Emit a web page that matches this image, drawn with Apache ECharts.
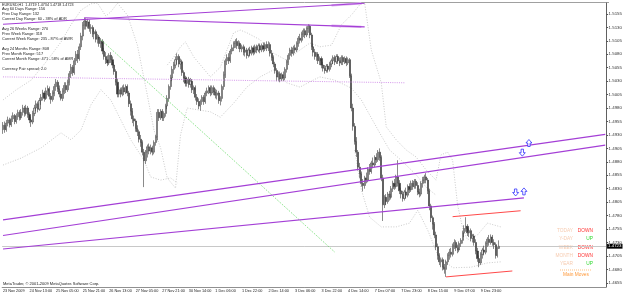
<!DOCTYPE html>
<html>
<head>
<meta charset="utf-8">
<title>EURUSD,H1</title>
<script src="https://cdn.jsdelivr.net/npm/echarts@6.0.0/dist/echarts.min.js"></script>
<style>
  html, body { margin: 0; padding: 0; background: #fff; }
  #chart { width: 625px; height: 294px; }
</style>
</head>
<body>
<div id="chart"></div>
<script>
// all prices in pips above 1.0000 (4723 -> 1.4723)
const timeLabels = ['23 Nov 2009', '24 Nov 13:00', '25 Nov 05:00', '25 Nov 21:00', '26 Nov 13:00', '27 Nov 05:00',
  '27 Nov 21:00', '30 Nov 14:00', '1 Dec 06:00', '1 Dec 22:00', '2 Dec 14:00', '3 Dec 06:00', '3 Dec 22:00',
  '4 Dec 14:00', '7 Dec 07:00', '7 Dec 23:00', '8 Dec 15:00', '9 Dec 07:00', '9 Dec 23:00']
const priceTicks = [4655, 4680, 4705, 4730, 4755, 4780, 4805, 4830, 4855, 4880, 4905, 4930, 4955, 4980,
  5005, 5030, 5055, 5080, 5105, 5130, 5155]
const lastPrice = 4723

// H1 bars: [open, close, low, high]
const candles = [
  [4940,4948,4932,4954],[4948,4940,4934,4955],[4940,4952,4936,4958],[4952,4958,4946,4964],[4958,4949,4944,4962],
  [4949,4960,4945,4966],[4960,4966,4954,4972],[4966,4955,4950,4969],[4955,4964,4951,4970],[4964,4972,4958,4977],
  [4972,4962,4957,4976],[4962,4972,4958,4978],[4972,4980,4966,4986],[4980,4970,4964,4984],[4970,4980,4966,4986],
  [4980,4968,4962,4984],[4968,4958,4952,4972],[4958,4954,4945,4964],[4954,4970,4950,4975],[4970,4980,4965,4986],
  [4980,4988,4974,4994],[4988,4978,4972,4992],[4978,4994,4975,4999],[4994,5000,4986,5006],[5000,5008,4994,5014],
  [5008,4998,4992,5012],[4998,5012,4995,5018],[5012,5016,5004,5022],[5016,5002,4996,5020],[5002,4996,4988,5008],
  [4996,5008,4992,5013],[5008,5020,5002,5025],[5020,5028,5012,5034],[5028,5016,5010,5032],[5016,5006,5000,5022],
  [5006,4998,4994,5012],[4998,5012,4993,5017],[5012,5022,5006,5028],[5022,5014,5008,5028],[5014,5028,5010,5033],
  [5028,5044,5022,5049],[5044,5056,5036,5062],[5056,5046,5040,5060],[5046,5068,5042,5073],[5068,5080,5060,5086],
  [5080,5072,5064,5088],[5072,5094,5068,5100],[5094,5114,5088,5120],[5114,5134,5106,5140],[5134,5142,5126,5148],
  [5142,5132,5126,5147],[5132,5140,5128,5146],[5140,5128,5122,5144],[5128,5130,5118,5136],[5130,5118,5112,5134],
  [5118,5122,5108,5128],[5122,5108,5102,5126],[5108,5112,5100,5118],[5112,5100,5094,5116],[5100,5104,5092,5110],
  [5104,5086,5080,5108],[5086,5076,5070,5092],[5076,5070,5062,5084],[5070,5064,5058,5078],[5064,5078,5060,5082],
  [5078,5070,5064,5084],[5070,5060,5054,5076],[5060,5048,5042,5066],[5048,5028,5022,5052],[5028,5006,5000,5034],
  [5006,5014,5000,5020],[5014,5006,5000,5018],[5006,5018,5002,5022],[5018,5010,5004,5024],[5010,5020,5006,5024],
  [5020,5008,5002,5024],[5008,4988,4982,5012],[4988,4974,4966,4994],[4974,4960,4952,4980],[4960,4956,4946,4966],
  [4956,4942,4936,4960],[4942,4936,4928,4948],[4936,4922,4916,4940],[4922,4916,4908,4930],[4916,4898,4892,4920],
  [4898,4882,4833,4904],[4882,4898,4876,4902],[4898,4908,4888,4912],[4908,4900,4894,4914],[4900,4906,4894,4912],
  [4906,4898,4892,4910],[4898,4916,4894,4920],[4916,4926,4910,4930],[4926,4972,4920,4978],[4972,4962,4956,4978],
  [4962,4974,4958,4978],[4974,4962,4956,4978],[4962,4970,4956,4974],[4970,4984,4964,4988],[4984,4998,4978,5004],
  [4998,5020,4992,5024],[5020,5036,5014,5042],[5036,5052,5030,5058],[5052,5060,5044,5066],[5060,5070,5054,5076],
  [5070,5076,5062,5082],[5076,5062,5056,5080],[5062,5066,5052,5072],[5066,5046,5040,5070],[5046,5036,5028,5050],
  [5036,5026,5020,5040],[5026,5034,5020,5038],[5034,5024,5018,5038],[5024,5030,5018,5036],[5030,5014,5008,5034],
  [5014,5018,5006,5022],[5018,5000,4994,5022],[5000,4992,4986,5006],[4992,4984,4978,4998],[4984,4992,4975,4996],
  [4992,5000,4986,5004],[5000,4992,4986,5004],[4992,5008,4988,5012],[5008,5012,5002,5018],[5012,5018,5006,5022],
  [5018,5008,5002,5022],[5008,5018,5004,5022],[5018,5010,5004,5022],[5010,5004,4998,5016],[5004,5008,4996,5014],
  [5008,4994,4988,5012],[4994,4998,4985,5002],[4998,5020,4992,5024],[5020,5042,5014,5048],[5042,5068,5036,5072],
  [5068,5074,5060,5080],[5074,5068,5062,5082],[5068,5086,5064,5090],[5086,5092,5080,5098],[5092,5100,5086,5104],
  [5100,5104,5092,5108],[5104,5096,5090,5110],[5096,5100,5090,5106],[5100,5090,5084,5104],[5090,5094,5084,5098],
  [5094,5084,5078,5098],[5084,5088,5076,5092],[5088,5078,5072,5092],[5078,5088,5074,5092],[5088,5082,5076,5094],
  [5082,5092,5078,5096],[5092,5084,5078,5096],[5084,5094,5080,5098],[5094,5088,5082,5098],[5088,5096,5084,5100],
  [5096,5088,5082,5100],[5088,5096,5084,5100],[5096,5090,5084,5102],[5090,5098,5086,5102],[5098,5092,5086,5104],
  [5092,5098,5086,5104],[5098,5082,5076,5102],[5082,5074,5068,5088],[5074,5062,5056,5078],[5062,5050,5044,5066],
  [5050,5038,5030,5054],[5038,5044,5030,5048],[5044,5034,5028,5048],[5034,5042,5030,5046],[5042,5036,5030,5048],
  [5036,5052,5032,5056],[5052,5066,5046,5070],[5066,5078,5060,5082],[5078,5088,5070,5092],[5088,5082,5076,5094],
  [5082,5092,5078,5096],[5092,5088,5082,5098],[5088,5100,5084,5104],[5100,5110,5094,5114],[5110,5106,5100,5118],
  [5106,5118,5102,5122],[5118,5124,5112,5128],[5124,5116,5110,5128],[5116,5128,5112,5132],[5128,5132,5120,5136],
  [5132,5116,5110,5135],[5116,5094,5088,5120],[5094,5084,5076,5100],[5084,5076,5070,5090],[5076,5080,5068,5084],
  [5080,5068,5062,5084],[5068,5072,5060,5076],[5072,5060,5054,5076],[5060,5054,5048,5066],[5054,5050,5044,5060],
  [5050,5058,5046,5062],[5058,5052,5046,5062],[5052,5062,5048,5066],[5062,5068,5056,5072],[5068,5074,5062,5078],
  [5074,5066,5060,5078],[5066,5076,5062,5080],[5076,5068,5062,5080],[5068,5064,5058,5074],[5064,5074,5060,5078],
  [5074,5066,5060,5078],[5066,5072,5062,5076],[5072,5064,5058,5076],[5064,5070,5060,5074],[5070,5040,5036,5073],
  [5040,4980,4974,5044],[4980,4946,4938,4988],[4946,4918,4912,4952],[4918,4898,4889,4926],[4898,4870,4864,4902],
  [4870,4858,4850,4878],[4858,4840,4834,4862],[4840,4836,4825,4848],[4836,4850,4830,4854],[4850,4846,4840,4860],
  [4846,4866,4842,4870],[4866,4862,4856,4876],[4862,4878,4858,4882],[4878,4874,4868,4888],[4874,4888,4870,4892],
  [4888,4884,4878,4896],[4884,4898,4880,4902],[4898,4888,4882,4905],[4888,4850,4844,4892],[4850,4800,4770,4856],
  [4800,4814,4794,4818],[4814,4806,4800,4820],[4806,4820,4802,4824],[4820,4814,4808,4826],[4814,4830,4810,4835],
  [4830,4840,4824,4845],[4840,4834,4828,4848],[4834,4852,4830,4856],[4852,4840,4834,4883],[4840,4826,4820,4846],
  [4826,4820,4812,4832],[4820,4812,4806,4826],[4812,4824,4808,4828],[4824,4818,4812,4832],[4818,4834,4814,4838],
  [4834,4828,4822,4840],[4828,4840,4824,4845],[4840,4834,4828,4846],[4834,4844,4830,4848],[4844,4836,4830,4848],
  [4836,4824,4818,4842],[4824,4820,4814,4830],[4820,4840,4816,4844],[4840,4846,4832,4852],[4846,4852,4840,4856],
  [4852,4846,4840,4859],[4846,4826,4820,4850],[4826,4798,4790,4830],[4798,4776,4768,4802],[4776,4764,4754,4780],
  [4764,4744,4738,4768],[4744,4722,4716,4750],[4722,4706,4698,4728],[4706,4694,4688,4710],[4694,4698,4684,4702],
  [4698,4684,4678,4702],[4684,4680,4672,4690],[4680,4694,4666,4698],[4694,4706,4688,4710],[4706,4712,4698,4718],
  [4712,4708,4702,4720],[4708,4724,4704,4728],[4724,4730,4718,4736],[4730,4720,4714,4734],[4720,4716,4710,4726],
  [4716,4728,4712,4732],[4728,4734,4722,4738],[4734,4748,4728,4752],[4748,4756,4740,4762],[4756,4760,4750,4777],
  [4760,4748,4742,4764],[4748,4752,4740,4756],[4752,4738,4732,4756],[4738,4742,4730,4746],[4742,4730,4724,4746],
  [4730,4714,4708,4736],[4714,4700,4694,4720],[4700,4692,4684,4706],[4692,4708,4688,4712],[4708,4716,4700,4720],
  [4716,4712,4706,4724],[4712,4728,4708,4732],[4728,4736,4722,4740],[4736,4730,4724,4744],[4730,4740,4726,4745],
  [4740,4730,4724,4744],[4730,4726,4718,4736],[4726,4706,4700,4730],[4706,4719,4702,4722],[4719,4723,4718,4734]
]
const emptyBars = 64   // chart shift space on the right

// dotted envelope curves: [bar index, price]
const bandA = [[0,4995],[8,5014],[17,5032],[26,5066],[35,5103],[41,5135],[47,5162],[53,5174],[57,5175],[62,5151],
  [65,5159],[69,5175],[75,5153],[81,5097],[87,5004],[91,4939],[95,4906],[99,4850],[104,4831],[107,4930],[111,4980],
  [119,4976],[125,4973],[131,4963],[139,4989],[147,5019],[155,5038],[163,5051],[171,5027],[179,5019],[187,5032],
  [191,5038],[200,5032],[210,5017],[216,4995],[227,4934],[233,4902],[240,4883],[249,4856],[255,4833],[261,4818]]
const bandB = [[99,5060],[103,5075],[107,5094],[110,5103],[115,5075],[125,5038],[131,5056],[139,5120],[143,5125],
  [147,5120],[155,5107],[163,5082],[171,5069],[179,5088],[185,5101],[191,5094],[198,5097],[204,5135],[210,5153],
  [215,5172],[218,5175],[222,5088],[228,5027],[231,4945],[237,4921],[243,4902],[249,4889],[255,4865],[261,4846],
  [264,4893],[268,4898],[271,4883],[274,4800],[277,4757],[280,4735],[286,4744],[292,4766],[300,4759]]
const bandC = [[0,4874],[11,4887],[23,4906],[35,4934],[41,4921],[47,4939],[53,4986],[59,5014],[65,4995],[71,4958],
  [77,4921],[85,4883],[89,4852],[95,4846],[101,4850],[105,4841]]
const bandD = [[212,4902],[216,4828],[221,4777],[228,4759],[237,4759],[245,4766],[250,4790],[256,4753],[262,4707],
  [271,4683],[282,4684],[292,4692],[300,4694]]

// drawn objects: [bar index, price] end points
const topLine1 = [[0,5136],[218,5175]]
const topLine2 = [[49,5148],[218,5131]]
const topLine1Hi = [[198,5171],[216,5175]]
const topLine2Hi = [[198,5133],[216,5131]]
const channel1 = [[0,4772],[363,4931]]
const channel2 = [[0,4743],[363,4911]]
const channel3 = [[0,4718],[314,4813]]
const pivotLine = [[0,5038],[242,5027]]
const greenLine = [[59,5107],[200,4712]]
const redTop = [[271,4778],[312,4789]]
const redBottom = [[267,4666],[307,4677]]
const upArrows = [[317,4915],[314,4825]]
const downArrows = [[313,4897],[309,4823]]

const infoLines = ['Avg 60 Days Range: 156', 'Prev Day Range: 132', 'Current Day Range: 60 - 38% of ADR',
  'Avg 26 Weeks Range: 270', 'Prev Week Range: 318', 'Current Week Range: 235 - 87% of AWR',
  'Avg 24 Months Range: 808', 'Prev Month Range: 517', 'Current Month Range: 471 - 58% of AMR',
  'Currency Pair spread: 2.0']
const infoY = [9, 14, 19, 29, 34, 39, 49, 54, 59, 69]
const moveNames = ['TODAY', 'Y-DAY', 'WEEK', 'MONTH', 'YEAR']
const moveDirs = ['DOWN', 'UP', 'DOWN', 'DOWN', 'UP']
const moveY = [231, 239, 247.5, 256, 264]

const FONT = '"Liberation Sans", Arial, sans-serif'
const cats = Array.from({ length: candles.length + emptyBars }, (_, i) => String(i))
const fmtPrice = v => (1 + v / 10000).toFixed(4)

function seg(data, color, width, type, z) {
  return { type: 'line', data: data, symbol: 'none', silent: true, z: z,
    lineStyle: { color: color, width: width, type: type } }
}

const upPath = 'path://M5 0 L10 5 L7 5 L7 10 L3 10 L3 5 L0 5 Z'
const downPath = 'path://M3 0 L7 0 L7 5 L10 5 L5 10 L0 5 L3 5 Z'

let graphics = [
  { type: 'line', shape: { x1: 0, y1: 2.5, x2: 609, y2: 2.5 }, style: { stroke: '#a0a0a0', lineWidth: 1 } },
  { type: 'text', style: { text: 'EURUSD,H1  1.4719 1.4734 1.4718 1.4723', x: 2, y: 4.5, fontSize: 3.7,
    fontFamily: FONT, fill: '#222', verticalAlign: 'middle' } },
  { type: 'text', style: { text: 'MetaTrader, \u00a9 2001-2009 MetaQuotes Software Corp.', x: 3, y: 283.5,
    fontSize: 4, fontFamily: FONT, fill: '#222', verticalAlign: 'middle' } },
  { type: 'line', shape: { x1: 560, y1: 270, x2: 592, y2: 270 },
    style: { stroke: '#ffae60', lineWidth: 0.8, lineDash: [1, 1] } },
  { type: 'text', style: { text: 'Main Moves', x: 576, y: 274.5, fontSize: 4.8, fontFamily: FONT,
    fill: '#ff9a3c', align: 'center', verticalAlign: 'middle' } }
]
infoLines.forEach((t, i) => {
  graphics.push({ type: 'text', style: { text: t, x: 2, y: infoY[i], fontSize: 3.9, fontFamily: FONT,
    fill: '#222', verticalAlign: 'middle' } })
})
moveNames.forEach((t, i) => {
  graphics.push({ type: 'text', style: { text: t, x: 573, y: moveY[i], fontSize: 4.8, fontFamily: FONT,
    fill: '#f6cbb0', align: 'right', verticalAlign: 'middle' } })
  graphics.push({ type: 'text', style: { text: moveDirs[i], x: 593, y: moveY[i], fontSize: 4.8, fontFamily: FONT,
    fill: moveDirs[i] === 'UP' ? '#2fd82f' : '#ff3333', align: 'right', verticalAlign: 'middle' } })
})

const chart = echarts.init(document.getElementById('chart'))
chart.setOption({
  animation: false,
  backgroundColor: '#ffffff',
  grid: { left: 0, top: 3, right: 16, bottom: 7 },
  xAxis: {
    type: 'category',
    data: cats,
    boundaryGap: true,
    axisLine: { lineStyle: { color: '#909090', width: 1 } },
    axisTick: { interval: i => i % 16 === 0 && i / 16 < timeLabels.length, alignWithLabel: true, length: 2,
      lineStyle: { color: '#555' } },
    axisLabel: {
      interval: i => i % 16 === 0 && i / 16 < timeLabels.length,
      formatter: (v, i) => timeLabels[i / 16] || '',
      align: 'left', margin: 1.5, fontSize: 3.8, fontFamily: FONT, color: '#222'
    },
    splitLine: { show: false }
  },
  yAxis: {
    type: 'value',
    position: 'right',
    min: 4647.2,
    max: 5175.4,
    scale: true,
    axisLine: { show: true, lineStyle: { color: '#606060', width: 1 } },
    axisTick: { show: true, length: 2, customValues: priceTicks, lineStyle: { color: '#555' } },
    axisLabel: { customValues: priceTicks, formatter: fmtPrice, margin: 2.5, fontSize: 4.4,
      fontFamily: FONT, color: '#333' },
    splitLine: { show: false }
  },
  graphic: graphics,
  series: [
    seg(bandA, '#bcbcbc', 0.8, [1, 1.6], 1),
    seg(bandB, '#bcbcbc', 0.8, [1, 1.6], 1),
    seg(bandC, '#bcbcbc', 0.8, [1, 1.6], 1),
    seg(bandD, '#bcbcbc', 0.8, [1, 1.6], 1),
    {
      type: 'candlestick',
      data: candles,
      z: 2,
      barWidth: 1.6,
      silent: true,
      itemStyle: { color: '#d4d4d4', color0: '#3a3a3a', borderColor: '#404040', borderColor0: '#3a3a3a',
        borderWidth: 0.6 },
      markLine: {
        silent: true,
        symbol: 'none',
        z: 1,
        lineStyle: { color: '#c8c8c8', width: 1, type: 'solid' },
        label: { position: 'end', formatter: fmtPrice(lastPrice), backgroundColor: '#000', color: '#fff',
          fontSize: 4.4, fontFamily: FONT, padding: [0.6, 1, 0.2, 1], distance: 1 },
        data: [{ yAxis: lastPrice }]
      }
    },
    seg(topLine1Hi, '#ddb0f0', 2.4, 'solid', 3),
    seg(topLine2Hi, '#ddb0f0', 2.4, 'solid', 3),
    seg(topLine1, '#a43fd6', 1.1, 'solid', 4),
    seg(topLine2, '#a43fd6', 1.1, 'solid', 4),
    seg(channel1, '#a43fd6', 1.1, 'solid', 4),
    seg(channel2, '#a43fd6', 1.1, 'solid', 4),
    seg(channel3, '#a43fd6', 1.1, 'solid', 4),
    seg(pivotLine, '#cf8ae8', 0.9, [1, 1.2], 3),
    seg(greenLine, '#5ed85e', 0.9, [1, 1.4], 3),
    seg(redTop, '#ff4a4a', 1, 'solid', 4),
    seg(redBottom, '#ff4a4a', 1, 'solid', 4),
    { type: 'scatter', data: upArrows, symbol: upPath, symbolSize: [6, 7], z: 5, silent: true,
      itemStyle: { color: '#ffffff', borderColor: '#1f1fff', borderWidth: 0.9 } },
    { type: 'scatter', data: downArrows, symbol: downPath, symbolSize: [6, 7], z: 5, silent: true,
      itemStyle: { color: '#ffffff', borderColor: '#1f1fff', borderWidth: 0.9 } }
  ]
})
</script>
</body>
</html>
